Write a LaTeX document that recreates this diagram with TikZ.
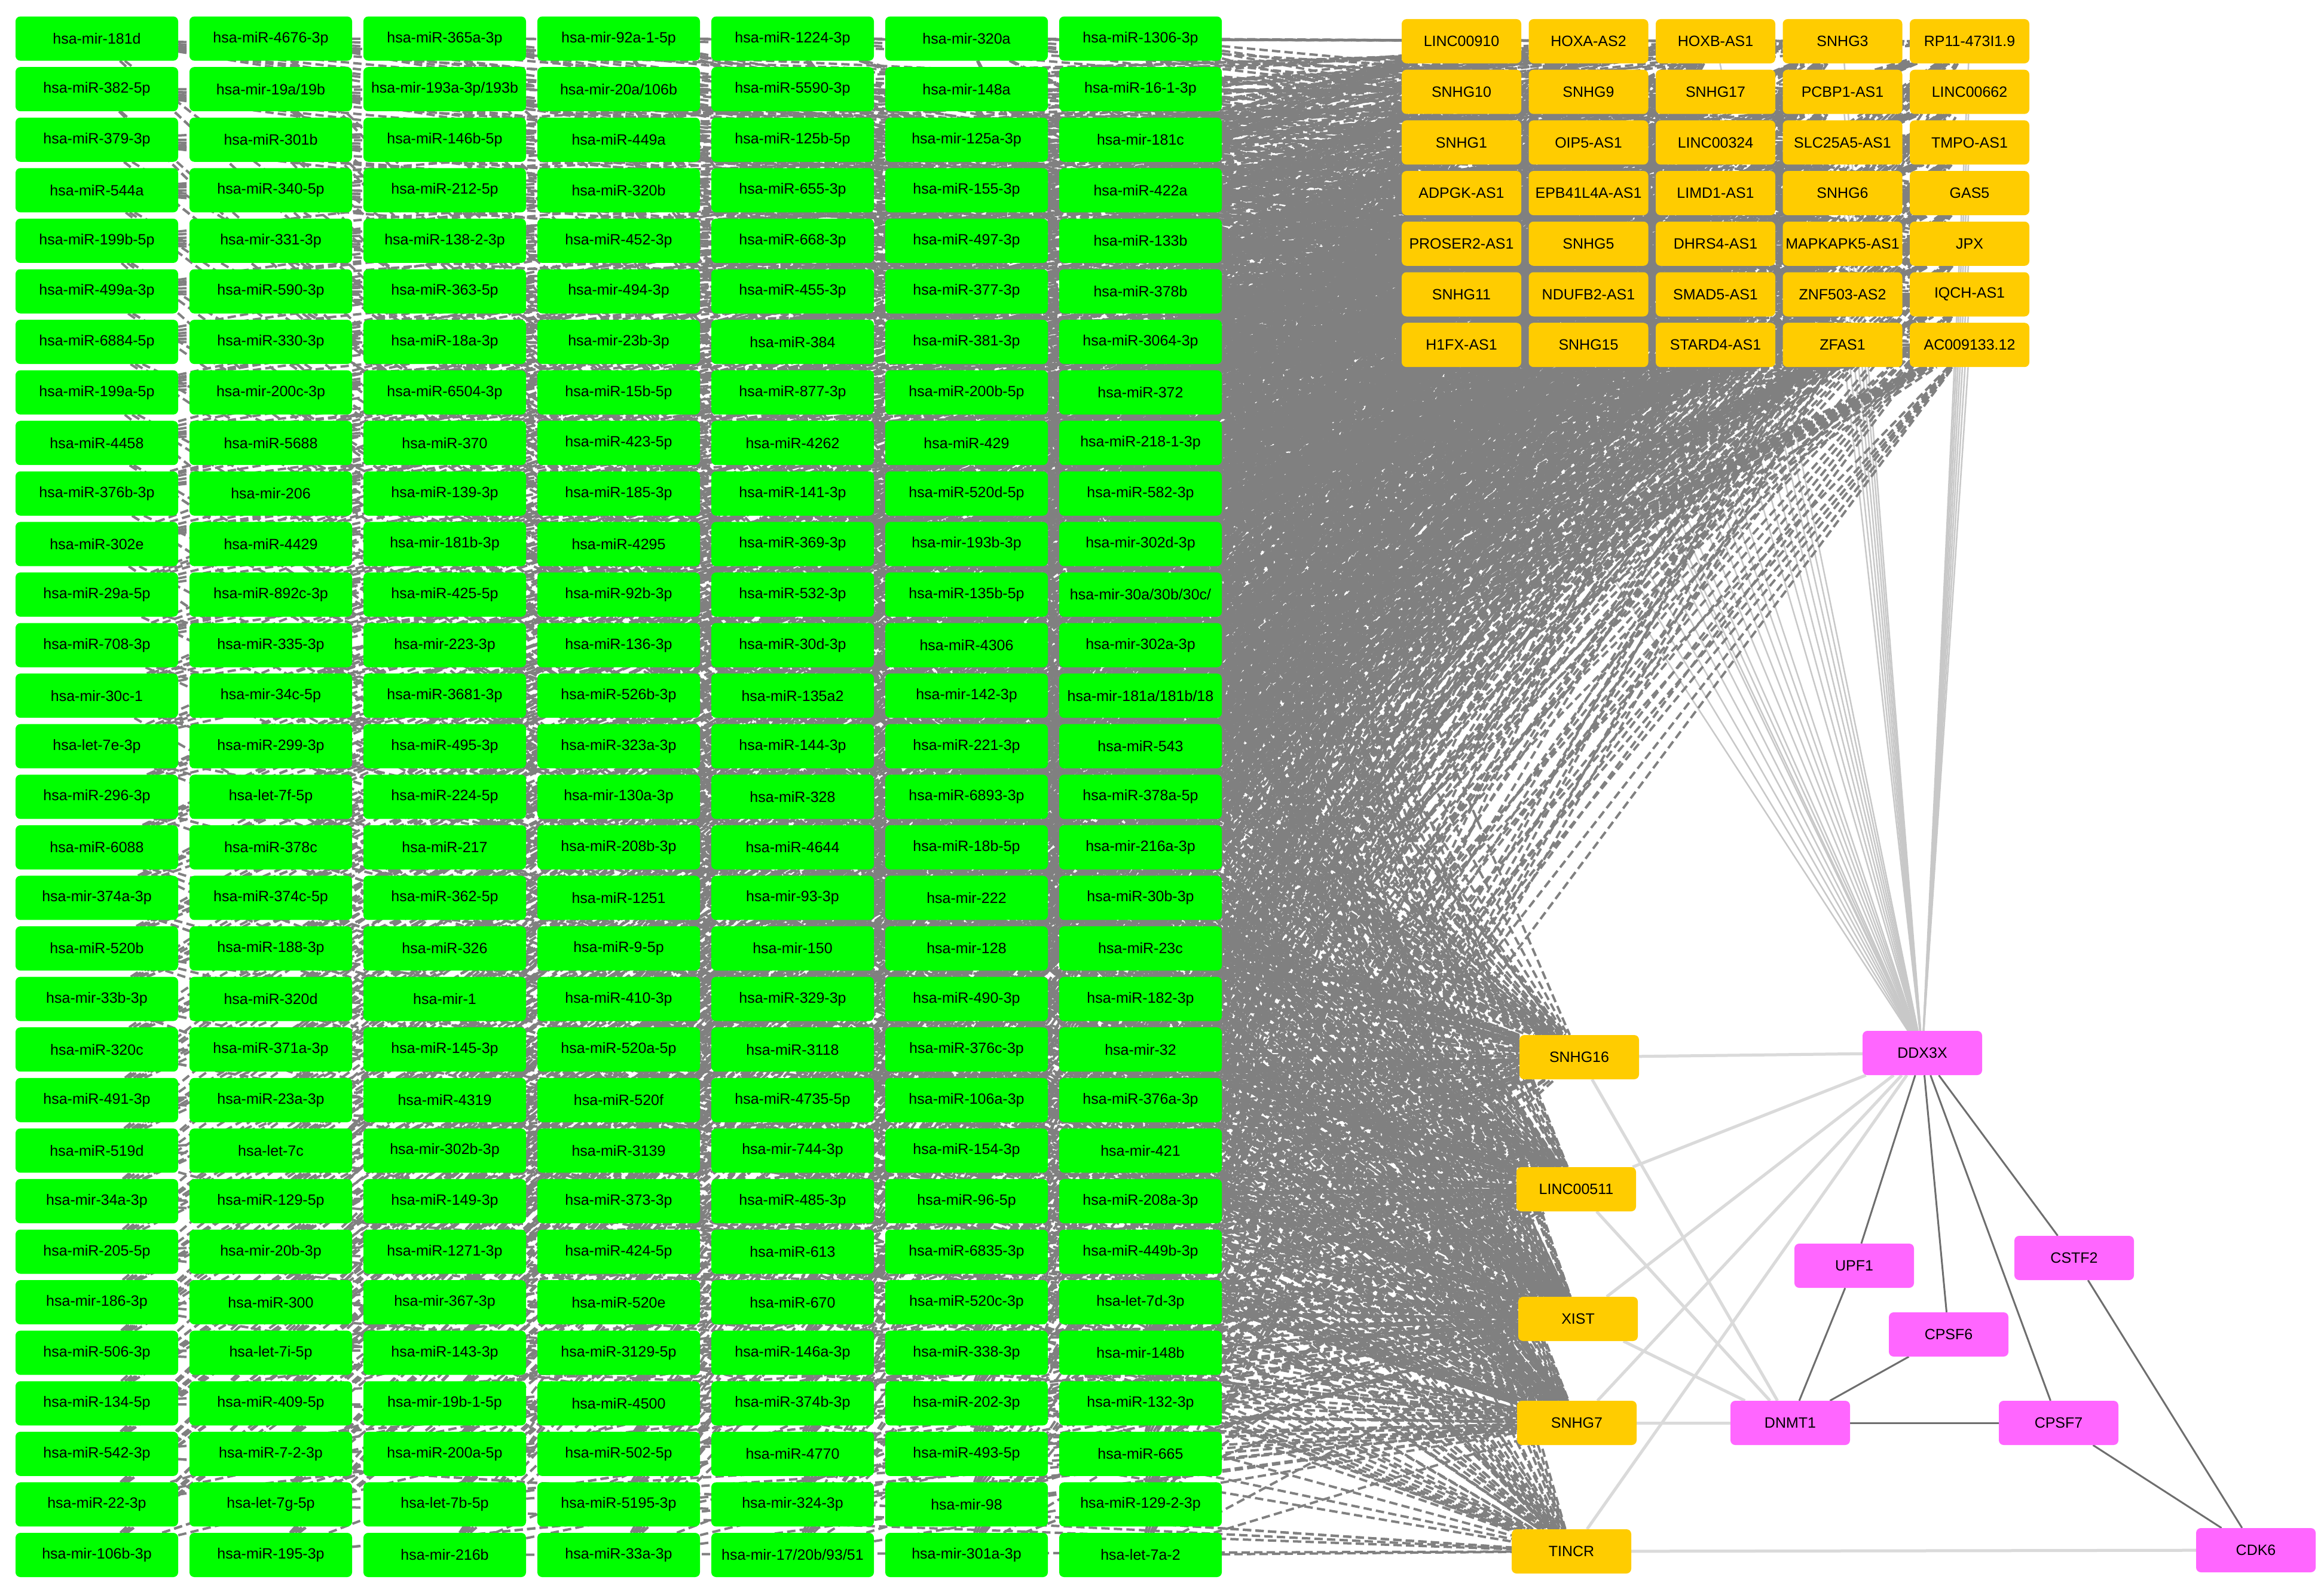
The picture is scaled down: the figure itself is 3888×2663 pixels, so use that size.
\documentclass[tikz,border=0pt]{standalone}
\usepackage{fontspec}
\setmainfont{Liberation Sans}
\pgfdeclarelayer{bg}
\pgfsetlayers{bg,main}
\definecolor{mgreen}{HTML}{00FF00}
\definecolor{morange}{HTML}{FFCC00}
\definecolor{mpink}{HTML}{FF66FF}
\definecolor{dashgray}{HTML}{808080}
\definecolor{lightg}{HTML}{DADADA}
\definecolor{fang}{HTML}{C8C8C8}
\definecolor{darkg}{HTML}{6E6E6E}
\tikzset{
 box/.style={rounded corners=8pt, inner sep=0pt, minimum height=74pt, font=\fontsize{25}{30}\selectfont, text=black},
 mi/.style={box, fill=mgreen, minimum width=272pt},
 lnc/.style={box, fill=morange, minimum width=200pt},
 prot/.style={box, fill=mpink, minimum width=200pt},
 dashedge/.style={draw=dashgray, line width=4pt, dash pattern=on 14pt off 7pt},
 lightedge/.style={draw=lightg, line width=5pt},
 fanedge/.style={draw=fang, line width=2.5pt},
 darkedge/.style={draw=darkg, line width=3pt},
}
\newcommand\grnrow[2]{\foreach \lab [count=\ci] in {#2} {\node[mi] (g-\ci-#1) at ({162+291*(\ci-1)},{64.6+84.58*(#1-1)}) {\lab};}}
\newcommand\orarow[2]{\foreach \lab [count=\ci] in {#2} {\pgfmathtruncatemacro\idx{(#1-1)*5+\ci-1}\node[lnc] (o-\idx) at ({2445+212.5*(\ci-1)},{69+84.7*(#1-1)}) {\lab};}}
\begin{document}
\begin{tikzpicture}[x=1pt,y=-1pt]
\useasboundingbox (0,0) rectangle (3888,2663);
% green miRNA grid
\grnrow{1}{hsa-mir-181d,hsa-miR-4676-3p,hsa-miR-365a-3p,hsa-mir-92a-1-5p,hsa-miR-1224-3p,hsa-mir-320a,hsa-miR-1306-3p}
\grnrow{2}{hsa-miR-382-5p,hsa-mir-19a/19b,hsa-mir-193a-3p/193b,hsa-mir-20a/106b,hsa-miR-5590-3p,hsa-mir-148a,hsa-miR-16-1-3p}
\grnrow{3}{hsa-miR-379-3p,hsa-miR-301b,hsa-miR-146b-5p,hsa-miR-449a,hsa-miR-125b-5p,hsa-mir-125a-3p,hsa-mir-181c}
\grnrow{4}{hsa-miR-544a,hsa-miR-340-5p,hsa-miR-212-5p,hsa-miR-320b,hsa-miR-655-3p,hsa-miR-155-3p,hsa-miR-422a}
\grnrow{5}{hsa-miR-199b-5p,hsa-mir-331-3p,hsa-miR-138-2-3p,hsa-miR-452-3p,hsa-miR-668-3p,hsa-miR-497-3p,hsa-miR-133b}
\grnrow{6}{hsa-miR-499a-3p,hsa-miR-590-3p,hsa-miR-363-5p,hsa-mir-494-3p,hsa-miR-455-3p,hsa-miR-377-3p,hsa-miR-378b}
\grnrow{7}{hsa-miR-6884-5p,hsa-miR-330-3p,hsa-miR-18a-3p,hsa-mir-23b-3p,hsa-miR-384,hsa-miR-381-3p,hsa-miR-3064-3p}
\grnrow{8}{hsa-miR-199a-5p,hsa-mir-200c-3p,hsa-miR-6504-3p,hsa-miR-15b-5p,hsa-miR-877-3p,hsa-miR-200b-5p,hsa-miR-372}
\grnrow{9}{hsa-miR-4458,hsa-miR-5688,hsa-miR-370,hsa-miR-423-5p,hsa-miR-4262,hsa-miR-429,hsa-miR-218-1-3p}
\grnrow{10}{hsa-miR-376b-3p,hsa-mir-206,hsa-miR-139-3p,hsa-miR-185-3p,hsa-miR-141-3p,hsa-miR-520d-5p,hsa-miR-582-3p}
\grnrow{11}{hsa-miR-302e,hsa-miR-4429,hsa-mir-181b-3p,hsa-miR-4295,hsa-miR-369-3p,hsa-mir-193b-3p,hsa-mir-302d-3p}
\grnrow{12}{hsa-miR-29a-5p,hsa-miR-892c-3p,hsa-miR-425-5p,hsa-miR-92b-3p,hsa-miR-532-3p,hsa-miR-135b-5p,hsa-mir-30a/30b/30c/}
\grnrow{13}{hsa-miR-708-3p,hsa-miR-335-3p,hsa-mir-223-3p,hsa-miR-136-3p,hsa-miR-30d-3p,hsa-miR-4306,hsa-mir-302a-3p}
\grnrow{14}{hsa-mir-30c-1,hsa-mir-34c-5p,hsa-miR-3681-3p,hsa-miR-526b-3p,hsa-miR-135a2,hsa-mir-142-3p,hsa-mir-181a/181b/18}
\grnrow{15}{hsa-let-7e-3p,hsa-miR-299-3p,hsa-miR-495-3p,hsa-miR-323a-3p,hsa-miR-144-3p,hsa-miR-221-3p,hsa-miR-543}
\grnrow{16}{hsa-miR-296-3p,hsa-let-7f-5p,hsa-miR-224-5p,hsa-mir-130a-3p,hsa-miR-328,hsa-miR-6893-3p,hsa-miR-378a-5p}
\grnrow{17}{hsa-miR-6088,hsa-miR-378c,hsa-miR-217,hsa-miR-208b-3p,hsa-miR-4644,hsa-miR-18b-5p,hsa-mir-216a-3p}
\grnrow{18}{hsa-mir-374a-3p,hsa-miR-374c-5p,hsa-miR-362-5p,hsa-miR-1251,hsa-mir-93-3p,hsa-mir-222,hsa-miR-30b-3p}
\grnrow{19}{hsa-miR-520b,hsa-miR-188-3p,hsa-miR-326,hsa-miR-9-5p,hsa-mir-150,hsa-mir-128,hsa-miR-23c}
\grnrow{20}{hsa-mir-33b-3p,hsa-miR-320d,hsa-mir-1,hsa-miR-410-3p,hsa-miR-329-3p,hsa-miR-490-3p,hsa-miR-182-3p}
\grnrow{21}{hsa-miR-320c,hsa-miR-371a-3p,hsa-miR-145-3p,hsa-miR-520a-5p,hsa-miR-3118,hsa-miR-376c-3p,hsa-mir-32}
\grnrow{22}{hsa-miR-491-3p,hsa-miR-23a-3p,hsa-miR-4319,hsa-miR-520f,hsa-miR-4735-5p,hsa-miR-106a-3p,hsa-miR-376a-3p}
\grnrow{23}{hsa-miR-519d,hsa-let-7c,hsa-mir-302b-3p,hsa-miR-3139,hsa-mir-744-3p,hsa-miR-154-3p,hsa-mir-421}
\grnrow{24}{hsa-mir-34a-3p,hsa-miR-129-5p,hsa-miR-149-3p,hsa-miR-373-3p,hsa-miR-485-3p,hsa-miR-96-5p,hsa-miR-208a-3p}
\grnrow{25}{hsa-miR-205-5p,hsa-mir-20b-3p,hsa-miR-1271-3p,hsa-miR-424-5p,hsa-miR-613,hsa-miR-6835-3p,hsa-miR-449b-3p}
\grnrow{26}{hsa-mir-186-3p,hsa-miR-300,hsa-mir-367-3p,hsa-miR-520e,hsa-miR-670,hsa-miR-520c-3p,hsa-let-7d-3p}
\grnrow{27}{hsa-miR-506-3p,hsa-let-7i-5p,hsa-miR-143-3p,hsa-miR-3129-5p,hsa-miR-146a-3p,hsa-miR-338-3p,hsa-mir-148b}
\grnrow{28}{hsa-miR-134-5p,hsa-miR-409-5p,hsa-mir-19b-1-5p,hsa-miR-4500,hsa-miR-374b-3p,hsa-miR-202-3p,hsa-miR-132-3p}
\grnrow{29}{hsa-miR-542-3p,hsa-miR-7-2-3p,hsa-miR-200a-5p,hsa-miR-502-5p,hsa-miR-4770,hsa-miR-493-5p,hsa-miR-665}
\grnrow{30}{hsa-miR-22-3p,hsa-let-7g-5p,hsa-let-7b-5p,hsa-miR-5195-3p,hsa-mir-324-3p,hsa-mir-98,hsa-miR-129-2-3p}
\grnrow{31}{hsa-mir-106b-3p,hsa-miR-195-3p,hsa-mir-216b,hsa-miR-33a-3p,hsa-mir-17/20b/93/51,hsa-mir-301a-3p,hsa-let-7a-2}
% orange lncRNA grid
\orarow{1}{LINC00910,HOXA-AS2,HOXB-AS1,SNHG3,RP11-473I1.9}
\orarow{2}{SNHG10,SNHG9,SNHG17,PCBP1-AS1,LINC00662}
\orarow{3}{SNHG1,OIP5-AS1,LINC00324,SLC25A5-AS1,TMPO-AS1}
\orarow{4}{ADPGK-AS1,EPB41L4A-AS1,LIMD1-AS1,SNHG6,GAS5}
\orarow{5}{PROSER2-AS1,SNHG5,DHRS4-AS1,MAPKAPK5-AS1,JPX}
\orarow{6}{SNHG11,NDUFB2-AS1,SMAD5-AS1,ZNF503-AS2,IQCH-AS1}
\orarow{7}{H1FX-AS1,SNHG15,STARD4-AS1,ZFAS1,AC009133.12}
% lower lncRNAs
\node[lnc] (l-0) at (2642,1769) {SNHG16};
\node[lnc] (l-1) at (2637,1990) {LINC00511};
\node[lnc] (l-2) at (2640,2207) {XIST};
\node[lnc] (l-3) at (2638,2381) {SNHG7};
\node[lnc] (l-4) at (2629,2596) {TINCR};
% proteins
\node[prot] (ddx) at (3216,1762) {DDX3X};
\node[prot] (upf) at (3102,2118) {UPF1};
\node[prot] (cstf) at (3470,2105) {CSTF2};
\node[prot] (cpsf6) at (3260,2233) {CPSF6};
\node[prot] (dnmt) at (2995,2381) {DNMT1};
\node[prot] (cpsf7) at (3444,2381) {CPSF7};
\node[prot] (cdk) at (3774,2594) {CDK6};
\begin{pgfonlayer}{bg}
\fill[white] (0,0) rectangle (3888,2663);
\foreach \i in {0,...,34} {\draw[fanedge] (ddx) -- (o-\i);}
\foreach \ci in {1,...,7} {
  \foreach \ri in {1,...,31} {
    \foreach \ki in {0,...,6} {
      \pgfmathtruncatemacro\tg{mod(\ci*11+\ri*17+\ki*6,35)}
      \draw[dashedge] (g-\ci-\ri) -- (o-\tg);
    }
    \pgfmathtruncatemacro\ia{mod(\ci*2+\ri*3,9)}
    \pgfmathtruncatemacro\ua{{0,1,2,3,0,1,2,3,4}[\ia]}
    \pgfmathtruncatemacro\ib{mod(\ci*5+\ri*4+4,9)}
    \pgfmathtruncatemacro\ub{{3,2,1,0,3,2,1,0,4}[\ib]}
    \pgfmathtruncatemacro\ic{mod(\ci*7+\ri*5+1,8)}
    \pgfmathtruncatemacro\uc{{1,2,3,0,2,3,1,2}[\ic]}
    \draw[dashedge] (g-\ci-\ri) -- (l-\ua);
    \draw[dashedge] (g-\ci-\ri) -- (l-\ub);
    \draw[dashedge] (g-\ci-\ri) -- (l-\uc);
  }
}
\draw[lightedge] (l-0) -- (ddx);
\draw[lightedge] (l-0) -- (dnmt);
\draw[lightedge] (l-1) -- (ddx);
\draw[lightedge] (l-1) -- (dnmt);
\draw[lightedge] (l-2) -- (ddx);
\draw[lightedge] (l-2) -- (dnmt);
\draw[lightedge] (l-3) -- (ddx);
\draw[lightedge] (l-3) -- (dnmt);
\draw[lightedge] (l-4) -- (ddx);
\draw[lightedge] (l-4) -- (cdk);
\draw[darkedge] (ddx) -- (upf);
\draw[darkedge] (ddx) -- (cpsf6);
\draw[darkedge] (ddx) -- (cpsf7);
\draw[darkedge] (ddx) -- (cstf);
\draw[darkedge] (upf) -- (dnmt);
\draw[darkedge] (cpsf6) -- (dnmt);
\draw[darkedge] (dnmt) -- (cpsf7);
\draw[darkedge] (cpsf7) -- (cdk);
\draw[darkedge] (cstf) -- (cdk);
\end{pgfonlayer}
\end{tikzpicture}
\end{document}
